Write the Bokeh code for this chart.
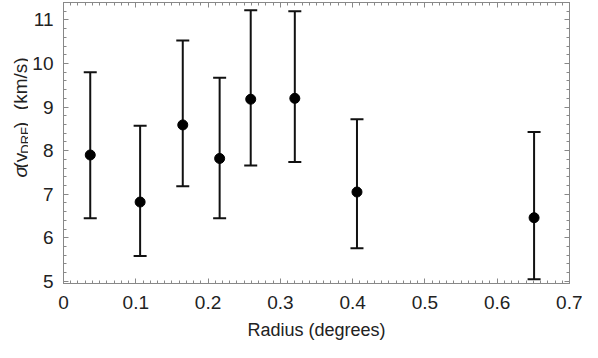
import numpy as np
from bokeh.plotting import figure
from bokeh.layouts import row
from bokeh.models import (ColumnDataSource, Whisker, TeeHead, LinearAxis, Label,
                          CustomJSTickFormatter, Range1d, FixedTicker)
from bokeh.embed import file_html
from bokeh.resources import INLINE

radius = [0.037, 0.106, 0.165, 0.216, 0.259, 0.320, 0.406, 0.651]
sigma = [7.90, 6.82, 8.59, 7.82, 9.18, 9.20, 7.05, 6.46]
upper = [9.80, 8.57, 10.53, 9.67, 11.22, 11.20, 8.72, 8.43]
lower = [6.45, 5.58, 7.18, 6.45, 7.66, 7.74, 5.76, 5.05]
x_ticks = [0.0, 0.1, 0.2, 0.3, 0.4, 0.5, 0.6, 0.7]
y_ticks = [5, 6, 7, 8, 9, 10, 11]
x_label = "Radius (degrees)"
y_label_parts = ["\u03c3", "(v", "DRF", ")", "(km/s)"]

x_minor = [round(i * 0.01, 2) for i in range(0, 71)]
y_minor = [round(4.8 + i * 0.2, 1) for i in range(0, 34)]

FONT = "Liberation Sans"
TXT = "#222222"
src = ColumnDataSource(dict(x=radius, y=sigma, up=upper, lo=lower))

H = 342
LW = 28            # width of the strip that holds the y-axis title
W = 582 - LW

p = figure(width=W, height=H, output_backend="svg", toolbar_location=None,
           x_range=Range1d(0, 0.7), y_range=Range1d(4.95, 11.4),
           min_border_left=63 - LW, min_border_right=13, min_border_top=2, min_border_bottom=50)
p.grid.visible = False
p.outline_line_color = "#888888"
p.background_fill_color = "white"
p.border_fill_color = "white"

w = Whisker(source=src, base="x", upper="up", lower="lo", line_color="#111111", line_width=2,
            upper_head=TeeHead(size=13, line_color="#111111", line_width=2),
            lower_head=TeeHead(size=13, line_color="#111111", line_width=2))
p.add_layout(w)
p.scatter("x", "y", source=src, size=10, color="#000000")

def style(ax):
    ax.axis_line_color = "#888888"
    ax.major_tick_line_color = "#888888"
    ax.minor_tick_line_color = "#888888"
    ax.major_tick_in = 5
    ax.major_tick_out = 0
    ax.minor_tick_in = 3
    ax.minor_tick_out = 0
    ax.major_label_text_font = FONT
    ax.major_label_text_font_size = "19px"
    ax.major_label_text_color = TXT
    ax.axis_label_text_font = FONT
    ax.axis_label_text_font_size = "18px"
    ax.axis_label_text_font_style = "normal"
    ax.axis_label_text_color = TXT

xt = FixedTicker(ticks=x_ticks, minor_ticks=x_minor)
yt = FixedTicker(ticks=y_ticks, minor_ticks=y_minor)
p.xaxis.ticker = xt
p.yaxis.ticker = yt
style(p.xaxis[0]); style(p.yaxis[0])
p.xaxis.axis_label = x_label
p.xaxis.major_label_standoff = 12
p.xaxis.axis_label_standoff = 8
p.yaxis.major_label_standoff = 10
p.yaxis.formatter = CustomJSTickFormatter(code="return tick.toFixed(0)")
p.xaxis.formatter = CustomJSTickFormatter(code="return tick == 0 ? '0' : tick.toFixed(1)")

blank = CustomJSTickFormatter(code="return ''")
top = LinearAxis(formatter=blank, ticker=xt); style(top)
top.major_label_standoff = 0
right = LinearAxis(formatter=blank, ticker=yt); style(right)
right.major_label_standoff = 0
p.add_layout(top, "above")
p.add_layout(right, "right")
p.min_border_top = 2
p.min_border_right = 13

# strip figure holding the rotated y-axis title with subscript (pixel coordinates, y up)
lf = figure(width=LW, height=H, output_backend="svg", toolbar_location=None,
            x_range=Range1d(0, LW), y_range=Range1d(0, H),
            x_axis_location=None, y_axis_location=None, min_border=0)
lf.grid.visible = False
lf.outline_line_color = None
lf.border_fill_color = "white"
lf.background_fill_color = "white"

kw = dict(x_units="data", y_units="data", angle=np.pi / 2,
          text_font=FONT, text_color=TXT, text_align="left", text_baseline="alphabetic")
bx = 20
starts = [213, 202, 184, 153, 131]
sizes = ["19px", "19px", "13px", "19px", "19px"]
dx = [0, 0, 4.5, 0, 0]
styles = ["italic", "normal", "normal", "normal", "normal"]
for t, s0, fs, d, st in zip(y_label_parts, starts, sizes, dx, styles):
    lf.add_layout(Label(text=t, x=bx + d, y=H - s0, text_font_size=fs, text_font_style=st, **kw))

layout = row(lf, p, spacing=0)
open("out.html", "w").write(file_html(layout, INLINE))
